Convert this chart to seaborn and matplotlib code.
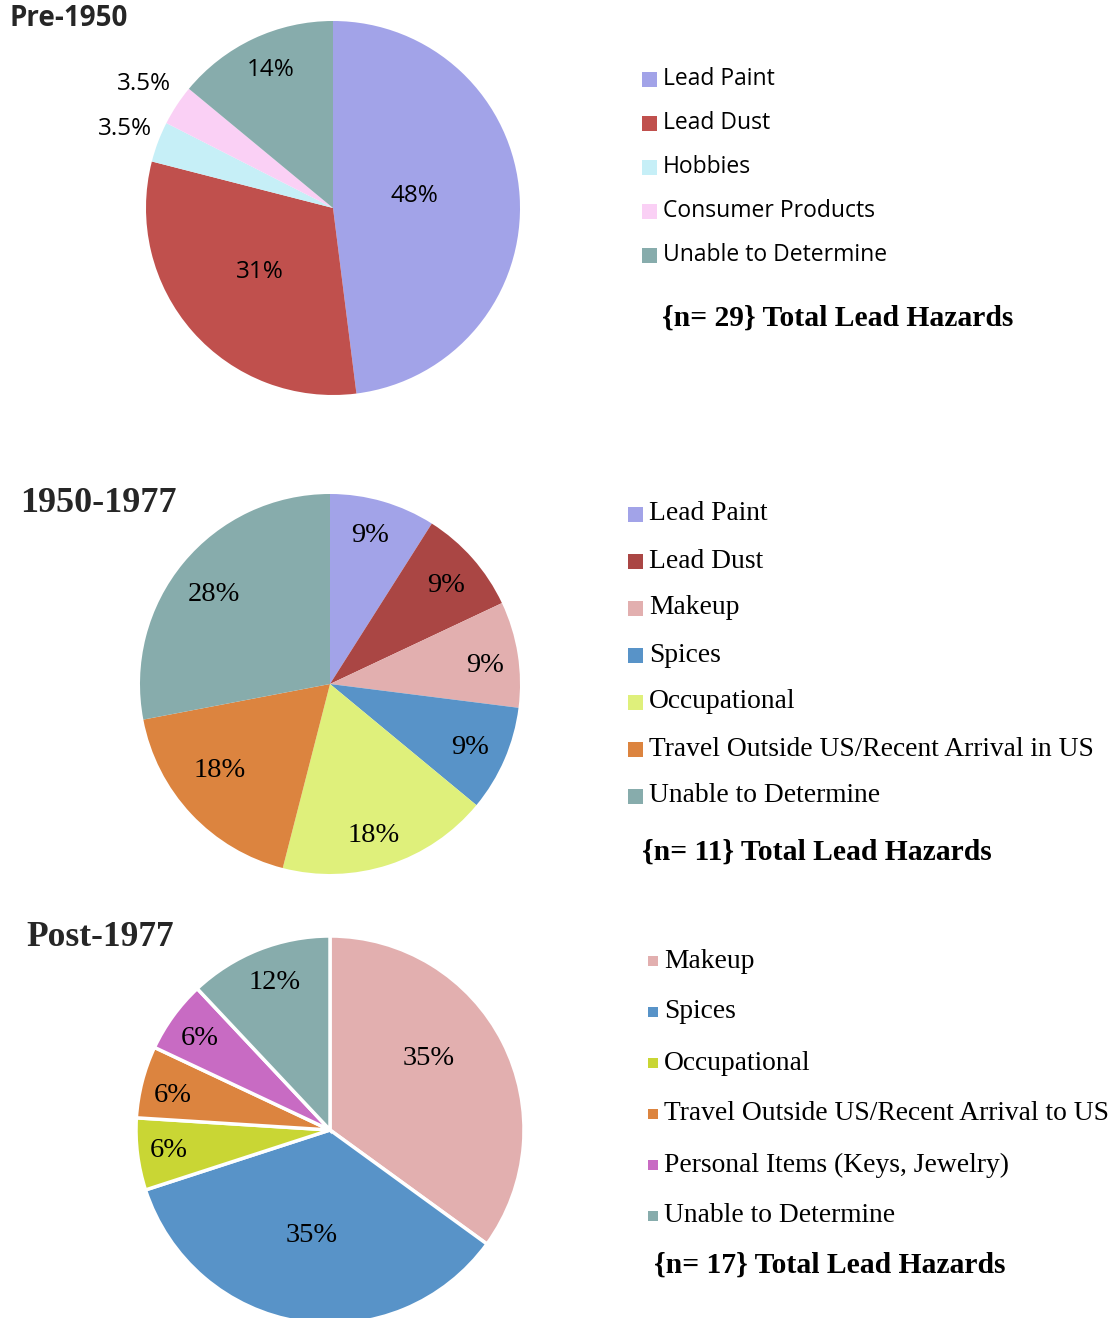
import matplotlib
matplotlib.use("Agg")
import numpy as np
import matplotlib.pyplot as plt
from matplotlib.patches import Rectangle
import seaborn as sns

sns.set_theme(style="white")

W, H = 1117, 1318

# --- data ---
pre_labels = ["Lead Paint", "Lead Dust", "Hobbies", "Consumer Products", "Unable to Determine"]
pre_values = [48, 31, 3.5, 3.5, 14]
pre_pct = ["48%", "31%", "3.5%", "3.5%", "14%"]
pre_colors = ["#A2A3E8", "#C0504D", "#C6EFF7", "#FAD0F5", "#87ACAC"]
pre_n = 29

mid_labels = ["Lead Paint", "Lead Dust", "Makeup", "Spices", "Occupational",
              "Travel Outside US/Recent Arrival in US", "Unable to Determine"]
mid_values = [9, 9, 9, 9, 18, 18, 28]
mid_pct = ["9%", "9%", "9%", "9%", "18%", "18%", "28%"]
mid_colors = ["#A2A3E8", "#AA4644", "#E2AFAF", "#5893C8", "#DFF07B", "#DC843F", "#87ACAC"]
mid_n = 11

post_labels = ["Makeup", "Spices", "Occupational", "Travel Outside US/Recent Arrival to US",
               "Personal Items (Keys, Jewelry)", "Unable to Determine"]
post_values = [35, 35, 6, 6, 6, 12]
post_pct = ["35%", "35%", "6%", "6%", "6%", "12%"]
post_colors = ["#E2AFAF", "#5893C8", "#C9D634", "#DC843F", "#C86BC3", "#87ACAC"]
post_n = 17

SANS = ["Open Sans", "DejaVu Sans"]
SERIF = ["Liberation Serif", "DejaVu Serif"]

fig = plt.figure(figsize=(W / 100, H / 100), dpi=100)


def px(x, y):
    return x / W, 1 - y / H


def draw_pie(cx, cy, r, values, colors, pct, label_r, label_da, font, size, edge_lw):
    ax = fig.add_axes([(cx - r) / W, (H - cy - r) / H, 2 * r / W, 2 * r / H])
    wedges, _ = ax.pie(values, colors=colors, startangle=90, counterclock=False,
                       wedgeprops=dict(edgecolor="white", linewidth=edge_lw))
    ax.set_xlim(-1, 1)
    ax.set_ylim(-1, 1)
    for w, t, d, da in zip(wedges, pct, label_r, label_da):
        a = np.deg2rad((w.theta1 + w.theta2) / 2 + da)
        ax.text(d * np.cos(a), d * np.sin(a), t, ha="center", va="center",
                family=font, fontsize=size, color="black")
    return ax


def draw_legend(x, y0, step, box, labels, colors, font, size, n, nx, ny):
    for i, (lab, c) in enumerate(zip(labels, colors)):
        y = y0 + i * step
        fig.patches.append(Rectangle(px(x, y + box / 2), box / W, box / H,
                                     transform=fig.transFigure, facecolor=c,
                                     edgecolor="none"))
        fig.text(*px(x + box + 6, y), lab, ha="left", va="center",
                 family=font, fontsize=size, color="black")
    fig.text(*px(nx, ny), "{n= %d} Total Lead Hazards" % n, ha="left", va="center",
             family=SERIF, fontweight="bold", fontsize=21.3, color="black")


# Pre-1950
draw_pie(333, 208, 187, pre_values, pre_colors, pre_pct,
         [0.44, 0.52, 1.19, 1.21, 0.81], [5, 0, 0, 0, -1], SANS, 17.5, 0)
fig.text(*px(10, 19), "Pre-1950", ha="left", va="center", family=SANS,
         fontweight="bold", fontsize=20)
draw_legend(642, 79, 44, 15, pre_labels, pre_colors, SANS, 16.5, pre_n, 662, 318)

# 1950-1977
draw_pie(330, 684, 190, mid_values, mid_colors, mid_pct,
         [0.81, 0.8, 0.82, 0.81, 0.83, 0.74, 0.77], [1, -1, -2, -1, -2, -5, 2], SERIF, 20.5, 0)
fig.text(*px(20, 503), "1950-1977", ha="left", va="center", family=SERIF,
         fontweight="bold", fontsize=26)
draw_legend(628, 514, 47, 15, mid_labels, mid_colors, SERIF, 19.8, mid_n, 642, 852)

# Post-1977
draw_pie(330, 1130, 194, post_values, post_colors, post_pct,
         [0.63, 0.55, 0.84, 0.83, 0.82, 0.81], [9, -1, 0, 2, 1, -1], SERIF, 20.5, 2.5)
fig.text(*px(26, 938), "Post-1977", ha="left", va="center", family=SERIF,
         fontweight="bold", fontsize=25.5)
draw_legend(648, 961, 51, 10, post_labels, post_colors, SERIF, 19.8, post_n, 654, 1265)

fig.savefig("out.png", dpi=100)
